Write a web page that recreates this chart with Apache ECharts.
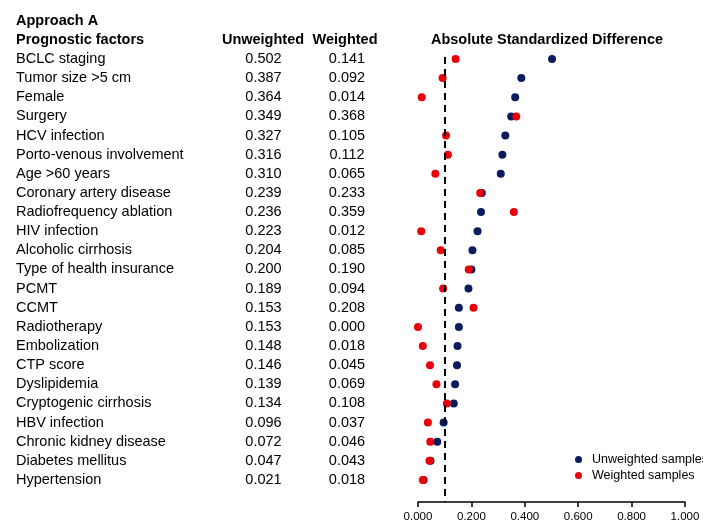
<!DOCTYPE html>
<html><head><meta charset="utf-8">
<script src="https://cdn.jsdelivr.net/npm/echarts@6/dist/echarts.min.js"></script>
<style>html,body{margin:0;padding:0;background:#fff}#c{width:703px;height:523px}</style>
</head><body><div id="c"></div>
<script>
const factors = ["BCLC staging","Tumor size >5 cm","Female","Surgery","HCV infection","Porto-venous involvement","Age >60 years","Coronary artery disease","Radiofrequency ablation","HIV infection","Alcoholic cirrhosis","Type of health insurance","PCMT","CCMT","Radiotherapy","Embolization","CTP score","Dyslipidemia","Cryptogenic cirrhosis","HBV infection","Chronic kidney disease","Diabetes mellitus","Hypertension"];
const unweighted = [0.502,0.387,0.364,0.349,0.327,0.316,0.310,0.239,0.236,0.223,0.204,0.200,0.189,0.153,0.153,0.148,0.146,0.139,0.134,0.096,0.072,0.047,0.021];
const weighted = [0.141,0.092,0.014,0.368,0.105,0.112,0.065,0.233,0.359,0.012,0.085,0.190,0.094,0.208,0.000,0.018,0.045,0.069,0.108,0.037,0.046,0.043,0.018];
const xTicks = [0,0.2,0.4,0.6,0.8,1.0];
const threshold = 0.1;

const FONT = "'Liberation Sans', Arial, sans-serif";
const FS = 14.5;
const chart = echarts.init(document.getElementById('c'));
const blue = '#0a1c5e', red = '#e8000b';
const option = {
  animation: false,
  textStyle: {fontFamily: FONT},
  grid: {left: 418, right: 18, top: 49.4, bottom: 21},
  xAxis: {type: 'value', min: 0, max: 1, interval: 0.2, position: 'bottom',
    axisLine: {show: true, onZero: false, lineStyle: {color: '#000', width: 1.5}},
    axisTick: {show: true, length: 5, lineStyle: {color: '#000', width: 1.5}},
    splitLine: {show: false},
    axisLabel: {color: '#000', fontSize: 11.5, fontFamily: FONT, margin: 9, formatter: v => v.toFixed(3)}},
  yAxis: {type: 'value', inverse: true, min: -0.5, max: 23.15, show: false},
  legend: {show: true, orient: 'vertical', left: 570, top: 448, itemWidth: 7, itemHeight: 7, itemGap: 3,
    textStyle: {fontSize: 12.5, color: '#000', fontFamily: FONT, padding: [0, 0, 0, 5]},
    data: [{name: 'Unweighted samples', icon: 'circle'}, {name: 'Weighted samples', icon: 'circle'}]},
  series: [
    {name: 'Unweighted samples', type: 'scatter', symbolSize: 8, itemStyle: {color: blue, opacity: 1},
      data: unweighted.map((v, i) => [v, i]), z: 3},
    {name: 'Weighted samples', type: 'scatter', symbolSize: 8, itemStyle: {color: red, opacity: 1},
      data: weighted.map((v, i) => [v, i]), z: 4,
      markLine: {silent: true, symbol: 'none', label: {show: false},
        lineStyle: {color: '#000', type: [7, 5], width: 2},
        data: [[{coord: [threshold, -0.1]}, {coord: [threshold, 23.15]}]]}}
  ]
};
chart.setOption(option);

const rowY = i => chart.convertToPixel({xAxisIndex: 0, yAxisIndex: 0}, [0, i])[1];
const txt = (x, y, s, opt) => Object.assign({type: 'text', x: x, y: y,
  style: Object.assign({text: s, fill: '#000', font: FS + 'px ' + FONT, textVerticalAlign: 'middle', textAlign: 'left'}, opt || {})});
const B = 'bold ' + FS + 'px ' + FONT;
const gfx = [];
const headY = rowY(0) - 19.14;
gfx.push(txt(16, headY - 19.14, 'Approach A', {font: B}));
gfx.push(txt(16, headY, 'Prognostic factors', {font: B}));
gfx.push(txt(263, headY, 'Unweighted', {font: B, textAlign: 'center'}));
gfx.push(txt(345, headY, 'Weighted', {font: B, textAlign: 'center'}));
gfx.push(txt(547, headY, 'Absolute Standardized Difference', {font: B, textAlign: 'center'}));
factors.forEach((f, i) => {
  const y = rowY(i);
  gfx.push(txt(16, y, f));
  gfx.push(txt(263.5, y, unweighted[i].toFixed(3), {textAlign: 'center'}));
  gfx.push(txt(347, y, weighted[i].toFixed(3), {textAlign: 'center'}));
});
chart.setOption({graphic: gfx});
</script></body></html>
